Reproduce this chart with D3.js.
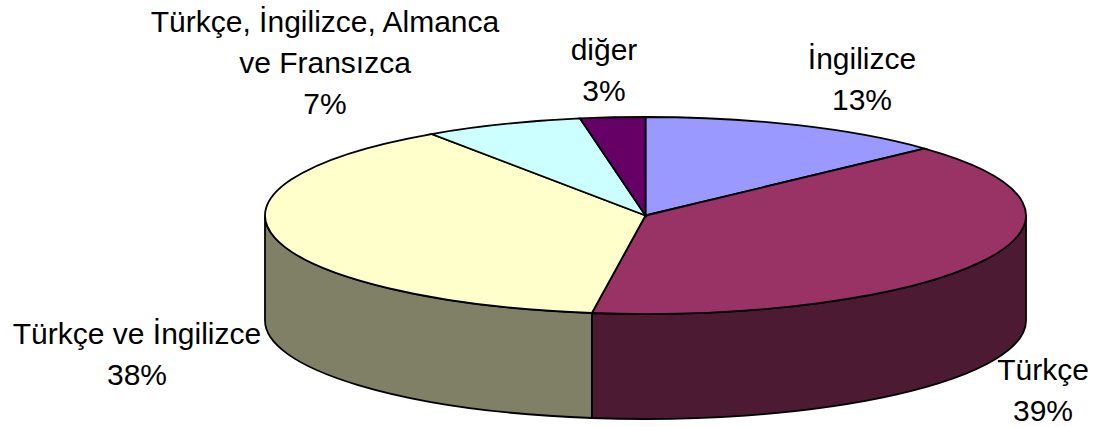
<!DOCTYPE html>
<html>
<head>
<meta charset="utf-8">
<script src="https://cdn.jsdelivr.net/npm/d3@7"></script>
<style>
  html, body { margin: 0; padding: 0; background: #fff; }
  text { font-family: "Liberation Sans", Arial, sans-serif; font-size: 30px; fill: #000; }
</style>
</head>
<body>
<div id="chart"></div>
<script>
var categories = ["İngilizce", "Türkçe", "Türkçe ve İngilizce", "Türkçe, İngilizce, Almanca ve Fransızca", "diğer"];
var values     = [13.1, 39.15, 38.25, 6.75, 2.75];
var percents   = ["13%", "39%", "38%", "7%", "3%"];
var topColors  = ["#9999ff", "#993366", "#ffffcc", "#ccffff", "#660066"];
var sideColors = ["#4d4d80", "#4d1a33", "#808066", "#668080", "#330033"];
var labelLines = [["İngilizce"], ["Türkçe"], ["Türkçe ve İngilizce"], ["Türkçe, İngilizce, Almanca", "ve Fransızca"], ["diğer"]];
var labelSpots = [[862, 69], [1043, 380], [137, 344], [325, 32], [604, 60]];

var width = 1093, height = 427;
var cx = 645.5, cy = 215.5, rx = 380.5, ry = 98.5, depth = 105;

var svg = d3.select("#chart").append("svg").attr("width", width).attr("height", height);

var slices = d3.pie().sort(null).value(function(d) { return d; })(values);

var px = function(a) { return cx + rx * Math.sin(a); };
var py = function(a) { return cy - ry * Math.cos(a); };

// top face
function topPath(d) {
  var large = d.endAngle - d.startAngle > Math.PI ? 1 : 0;
  return "M" + cx + "," + cy + "L" + px(d.startAngle) + "," + py(d.startAngle) +
    "A" + rx + "," + ry + " 0 " + large + " 1 " + px(d.endAngle) + "," + py(d.endAngle) + "Z";
}

// only the front half of the rim is visible (angles 90 to 270 deg)
function sidePath(d) {
  var a0 = Math.max(d.startAngle, Math.PI / 2), a1 = Math.min(d.endAngle, 3 * Math.PI / 2);
  if (a1 <= a0) return null;
  return "M" + px(a0) + "," + py(a0) +
    "A" + rx + "," + ry + " 0 0 1 " + px(a1) + "," + py(a1) +
    "L" + px(a1) + "," + (py(a1) + depth) +
    "A" + rx + "," + ry + " 0 0 0 " + px(a0) + "," + (py(a0) + depth) + "Z";
}

svg.append("g").selectAll("path").data(slices).enter().append("path")
  .attr("d", sidePath)
  .attr("fill", function(d, i) { return sideColors[i]; })
  .attr("stroke", "#000").attr("stroke-width", 1.8);

svg.append("g").selectAll("path").data(slices).enter().append("path")
  .attr("d", topPath)
  .attr("fill", function(d, i) { return topColors[i]; })
  .attr("stroke", "#000").attr("stroke-width", 1.8);

var labels = svg.append("g").selectAll("text").data(categories).enter().append("text")
  .attr("text-anchor", "middle")
  .attr("transform", function(d, i) { return "translate(" + labelSpots[i] + ")"; });

labels.each(function(d, i) {
  var t = d3.select(this);
  labelLines[i].concat(percents[i]).forEach(function(line, j) {
    t.append("tspan").attr("x", 0).attr("y", j * 41).text(line);
  });
});
</script>
</body>
</html>
